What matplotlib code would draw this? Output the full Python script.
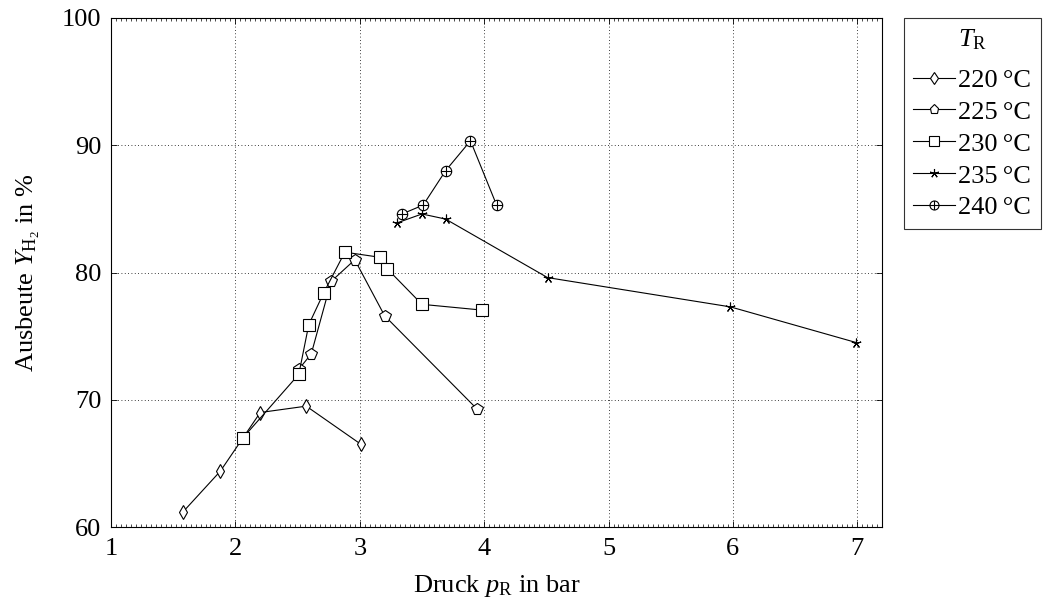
import numpy as np
import matplotlib
matplotlib.use("Agg")
import matplotlib.pyplot as plt
from matplotlib.path import Path
from matplotlib.ticker import MultipleLocator

plt.rcParams['font.family'] = ['Liberation Serif', 'DejaVu Serif']
plt.rcParams['mathtext.fontset'] = 'custom'
plt.rcParams['mathtext.rm'] = 'Liberation Serif'
plt.rcParams['mathtext.it'] = 'Liberation Serif:italic'

# Daten: Druck in bar, Ausbeute in %
p_220 = [1.58, 1.88, 2.20, 2.57, 3.01]
y_220 = [61.2, 64.4, 69.0, 69.5, 66.5]

p_225 = [2.51, 2.61, 2.77, 2.96, 3.20, 3.94]
y_225 = [72.4, 73.6, 79.3, 81.0, 76.6, 69.3]

p_230 = [2.06, 2.51, 2.59, 2.71, 2.88, 3.16, 3.22, 3.50, 3.98]
y_230 = [67.0, 72.0, 75.9, 78.4, 81.6, 81.2, 80.3, 77.5, 77.05]

p_235 = [3.30, 3.50, 3.69, 4.51, 5.98, 6.99]
y_235 = [83.9, 84.6, 84.2, 79.6, 77.3, 74.5]

p_240 = [3.34, 3.51, 3.69, 3.89, 4.10]
y_240 = [84.6, 85.3, 88.0, 90.35, 85.3]

labels = ['220\u2009°C', '225\u2009°C', '230\u2009°C', '235\u2009°C', '240\u2009°C']

# oplus-Marker: Kreis mit Kreuz
circ = Path.unit_circle()
cross = Path([(-1, 0), (1, 0), (0, -1), (0, 1)],
             [Path.MOVETO, Path.LINETO, Path.MOVETO, Path.LINETO])
oplus = Path.make_compound_path(circ, cross)

fs = 19

fig = plt.figure(figsize=(10.45, 6.1), dpi=100)
ax = fig.add_axes([0.1062, 0.136, 0.738, 0.8345])

series = [
    (p_220, y_220, 'd', 7.5),
    (p_225, y_225, 'p', 8.5),
    (p_230, y_230, 's', 8),
    (p_235, y_235, (5, 2, 0), 7),
    (p_240, y_240, oplus, 7.5),
]
for (px, py, m, ms), lab in zip(series, labels):
    ax.plot(px, py, color='black', lw=0.8, marker=m, ms=ms,
            mfc='white', mec='black', mew=0.8, label=lab)

ax.set_xlim(1, 7.2)
ax.set_ylim(60, 100)
ax.xaxis.set_major_locator(MultipleLocator(1))
ax.xaxis.set_minor_locator(MultipleLocator(0.04))
ax.yaxis.set_major_locator(MultipleLocator(10))
ax.tick_params(which='both', direction='in', top=True, right=True,
               labelsize=fs)
ax.tick_params(axis='x', pad=8)
ax.tick_params(axis='y', pad=7)
ax.tick_params(which='major', length=4, width=0.6)
ax.tick_params(which='minor', length=2, width=0.5)
ax.grid(True, which='major', color='black', ls=(0, (1, 3)), lw=0.6)
for s in ax.spines.values():
    s.set_linewidth(0.8)

ax.set_xlabel(r'Druck $p_{\mathrm{R}}$ in bar', fontsize=fs, labelpad=9)
ax.set_ylabel(r'Ausbeute $Y_{\mathrm{H_2}}$ in %', fontsize=fs, labelpad=14)

leg = ax.legend(loc='upper left', bbox_to_anchor=(1.028, 1.0),
                title=r'$T_{\mathrm{R}}$', fontsize=fs, title_fontsize=fs,
                frameon=True, fancybox=False, edgecolor='black',
                handlelength=1.6, handletextpad=0.12, borderpad=0.35,
                labelspacing=0.32, borderaxespad=0)
leg._legend_box.sep = 0.45 * fs * 100 / 72
leg.get_frame().set_linewidth(0.8)
for h in leg.legend_handles:
    h.set_markersize(6.5)

fig.savefig('out.png', dpi=100)
